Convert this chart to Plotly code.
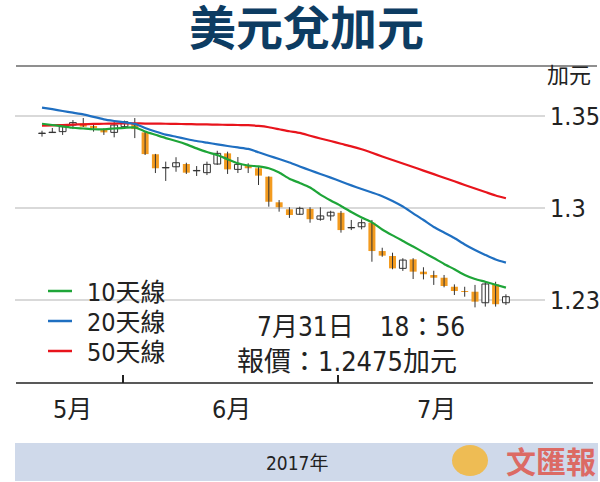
import plotly.graph_objects as go

# ---- data ----
open_ = [1.3405, 1.3410, 1.3415, 1.3451, 1.3460, 1.3446, 1.3424, 1.3411, 1.3442, 1.3457,
         1.3411, 1.3292, 1.3218, 1.3224, 1.3239, 1.3202, 1.3192, 1.3239, 1.3297, 1.3210,
         1.3234, 1.3216, 1.3170, 1.3031, 1.2993, 1.2966, 1.2995, 1.2939, 1.2957, 1.2974,
         1.2892, 1.2898, 1.2920, 1.2766, 1.2739, 1.2672, 1.2721, 1.2654, 1.2636, 1.2621,
         1.2572, 1.2546, 1.2545, 1.2485, 1.2585, 1.2485]
high = [1.3420, 1.3435, 1.3451, 1.3478, 1.3489, 1.3457, 1.3433, 1.3469, 1.3475, 1.3489,
        1.3413, 1.3294, 1.3252, 1.3276, 1.3246, 1.3228, 1.3252, 1.3311, 1.3306, 1.3277,
        1.3243, 1.3225, 1.3172, 1.3043, 1.3004, 1.3007, 1.3004, 1.3004, 1.2985, 1.2984,
        1.2935, 1.2939, 1.2935, 1.2784, 1.2757, 1.2727, 1.2727, 1.2678, 1.2659, 1.2636,
        1.2585, 1.2572, 1.2582, 1.2599, 1.2599, 1.2531]
low = [1.3388, 1.3408, 1.3397, 1.3429, 1.3440, 1.3415, 1.3397, 1.3384, 1.3439, 1.3380,
       1.3288, 1.3190, 1.3147, 1.3197, 1.3185, 1.3174, 1.3179, 1.3234, 1.3185, 1.3190,
       1.3190, 1.3125, 1.3007, 1.2980, 1.2946, 1.2964, 1.2920, 1.2931, 1.2931, 1.2866,
       1.2880, 1.2884, 1.2708, 1.2735, 1.2667, 1.2658, 1.2614, 1.2612, 1.2582, 1.2569,
       1.2527, 1.2518, 1.2460, 1.2464, 1.2464, 1.2473]
close = [1.3407, 1.3412, 1.3442, 1.3464, 1.3442, 1.3433, 1.3411, 1.3451, 1.3469, 1.3429,
         1.3293, 1.3216, 1.3220, 1.3246, 1.3192, 1.3204, 1.3237, 1.3297, 1.3210, 1.3237,
         1.3216, 1.3176, 1.3034, 1.3004, 1.2962, 1.2998, 1.2939, 1.2957, 1.2977, 1.2880,
         1.2894, 1.2920, 1.2766, 1.2741, 1.2672, 1.2717, 1.2654, 1.2640, 1.2621, 1.2576,
         1.2549, 1.2544, 1.2491, 1.2587, 1.2477, 1.2518]

ma10 = [1.3458, 1.3451, 1.3444, 1.3436, 1.3432, 1.3428, 1.3428, 1.3432, 1.3436, 1.3438,
        1.3416, 1.3398, 1.3380, 1.3364, 1.3346, 1.3324, 1.3304, 1.3288, 1.3265, 1.3243,
        1.3231, 1.3226, 1.3216, 1.3193, 1.3159, 1.3136, 1.3111, 1.3073, 1.3041, 1.3011,
        1.2978, 1.2948, 1.2922, 1.2883, 1.2851, 1.2821, 1.2791, 1.2759, 1.2728, 1.2696,
        1.2667, 1.2636, 1.2614, 1.2599, 1.2583, 1.2567]
ma20 = [1.3546, 1.3537, 1.3527, 1.3518, 1.3509, 1.3495, 1.3482, 1.3473, 1.3465, 1.3457,
        1.3435, 1.3416, 1.3399, 1.3387, 1.3375, 1.3364, 1.3355, 1.3346, 1.3337, 1.3329,
        1.3321, 1.3303, 1.3284, 1.3266, 1.3247, 1.3226, 1.3205, 1.3185, 1.3165, 1.3144,
        1.3123, 1.3103, 1.3084, 1.3064, 1.3038, 1.3008, 1.2971, 1.2935, 1.2897, 1.2867,
        1.2837, 1.2802, 1.2772, 1.2745, 1.2720, 1.2703]
ma50 = [1.3448, 1.3449, 1.3451, 1.3453, 1.3455, 1.3457, 1.3458, 1.3459, 1.3460, 1.3460,
        1.3459, 1.3459, 1.3458, 1.3457, 1.3456, 1.3455, 1.3454, 1.3453, 1.3452, 1.3451,
        1.3450, 1.3446, 1.3439, 1.3428, 1.3417, 1.3408, 1.3393, 1.3378, 1.3364, 1.3349,
        1.3335, 1.3319, 1.3300, 1.3280, 1.3261, 1.3242, 1.3223, 1.3203, 1.3184, 1.3164,
        1.3145, 1.3125, 1.3106, 1.3087, 1.3068, 1.3053]

legend_labels = ["10天線", "20天線", "50天線"]
y_tickvals = [1.35, 1.30, 1.25]
y_ticktext = ["1.35", "1.3", "1.23"]
month_labels = ["5月", "6月", "7月"]
title_text = "美元兌加元"
unit_text = "加元"
info_line1 = "7月31日　18：56"
info_line2 = "報價：1.2475加元"
year_text = "2017年"
logo_text = "文匯報"

# ---- styling ----
ORANGE = "#f39b1f"
GREEN = "#1ea538"
BLUE = "#1f6fc1"
RED = "#e8141c"
CJK = "Noto Sans CJK TC, Noto Sans CJK SC, sans-serif"
TITLE_FONT = "DejaVu Sans, Noto Sans CJK TC, sans-serif"
NUM = "Liberation Sans Narrow, DejaVu Sans Condensed, Noto Sans CJK TC, sans-serif"

W, H = 600, 482
L, R, T, B = 15, 545, 70, 383


def px(xp):
    return (xp - L) / (R - L)


def py(yp):
    return (B - yp) / (B - T)


idx = list(range(len(open_)))
up = [i for i in idx if close[i] >= open_[i]]
dn = [i for i in idx if close[i] < open_[i]]

fig = go.Figure()

# wicks
wx, wy = [], []
for i in idx:
    wx += [i, i, None]
    wy += [low[i], high[i], None]
fig.add_trace(go.Scatter(x=wx, y=wy, mode="lines", line=dict(color="#333333", width=1),
                         hoverinfo="skip", showlegend=False))
# rising bodies (hollow)
fig.add_trace(go.Bar(x=up, base=[open_[i] for i in up], y=[close[i] - open_[i] for i in up],
                     width=0.66, marker=dict(color="white", line=dict(color="#333333", width=1)),
                     showlegend=False, hoverinfo="skip"))
# falling bodies (orange)
fig.add_trace(go.Bar(x=dn, base=[close[i] for i in dn], y=[open_[i] - close[i] for i in dn],
                     width=0.68, marker=dict(color=ORANGE, line=dict(width=0)),
                     showlegend=False, hoverinfo="skip"))

for series, color, name in [(ma50, RED, legend_labels[2]), (ma20, BLUE, legend_labels[1]),
                            (ma10, GREEN, legend_labels[0])]:
    fig.add_trace(go.Scatter(x=idx, y=series, mode="lines", name=name,
                             line=dict(color=color, width=2.2, shape="spline", smoothing=0.6),
                             showlegend=False, hoverinfo="skip"))

shapes = []
annotations = []

# title and rule
annotations.append(dict(text="<b>%s</b>" % title_text, x=px(306), y=py(29), xref="paper", yref="paper",
                        showarrow=False, xanchor="center", yanchor="middle",
                        font=dict(family=TITLE_FONT, size=47, color="#0d3c62")))
shapes.append(dict(type="line", xref="paper", yref="paper", x0=px(16), x1=px(597), y0=py(66), y1=py(66),
                   line=dict(color="#8f8f8f", width=2)))
annotations.append(dict(text=unit_text, x=px(569), y=py(73), xref="paper", yref="paper", showarrow=False,
                        xanchor="center", yanchor="middle", font=dict(family=CJK, size=22, color="#222")))

# bottom axis line
shapes.append(dict(type="line", xref="paper", yref="paper", x0=px(16), x1=px(593), y0=py(383), y1=py(383),
                   line=dict(color="#222", width=1.5)))

# month labels
for lab, pos in zip(month_labels, [3.0, 18.4, 38.3]):
    annotations.append(dict(text=lab, x=pos, y=py(410), xref="x", yref="paper", showarrow=False,
                            xanchor="center", yanchor="middle", font=dict(family=NUM, size=25, color="#222")))

# legend
for k, (lab, color) in enumerate(zip(legend_labels, [GREEN, BLUE, RED])):
    yy = 291 + 30 * k
    shapes.append(dict(type="line", xref="paper", yref="paper", x0=px(48), x1=px(72), y0=py(yy), y1=py(yy),
                       line=dict(color=color, width=2.5)))
    annotations.append(dict(text=lab, x=px(85), y=py(yy + 1), xref="paper", yref="paper", showarrow=False,
                            xanchor="left", yanchor="middle", font=dict(family=NUM, size=25, color="#222")))

# info text
annotations.append(dict(text=info_line1, x=px(361), y=py(327), xref="paper", yref="paper", showarrow=False,
                        xanchor="center", yanchor="middle", font=dict(family=NUM, size=26, color="#222")))
annotations.append(dict(text=info_line2, x=px(347), y=py(361), xref="paper", yref="paper", showarrow=False,
                        xanchor="center", yanchor="middle", font=dict(family=NUM, size=27, color="#222")))

# footer band
shapes.append(dict(type="rect", xref="paper", yref="paper", x0=px(15), x1=px(598), y0=py(481), y1=py(443),
                   fillcolor="#cfd9ea", line=dict(width=0), layer="below"))
annotations.append(dict(text=year_text, x=px(297), y=py(463), xref="paper", yref="paper", showarrow=False,
                        xanchor="center", yanchor="middle", font=dict(family=NUM, size=19, color="#222")))
shapes.append(dict(type="circle", xref="paper", yref="paper", x0=px(452), x1=px(488), y0=py(476), y1=py(445),
                   fillcolor="#f3b63a", line=dict(width=0), opacity=0.85))
annotations.append(dict(text="<b>%s</b>" % logo_text, x=px(551), y=py(460), xref="paper", yref="paper",
                        showarrow=False, xanchor="center", yanchor="middle",
                        font=dict(family=CJK, size=30, color="#dc6a64")))

fig.update_layout(
    width=W, height=H,
    margin=dict(l=L, r=W - R, t=T, b=H - B, pad=0, autoexpand=False),
    paper_bgcolor="white", plot_bgcolor="white",
    barmode="overlay",
    shapes=shapes, annotations=annotations,
    showlegend=False,
    xaxis=dict(range=[-2.62, 48.79], showgrid=False, zeroline=False, showticklabels=False,
               ticks="inside", tickvals=[7.86, 28.7], ticklen=8, tickwidth=1.5, tickcolor="#222",
               showline=False, fixedrange=True, automargin=False),
    yaxis=dict(range=[1.20489, 1.3750], side="right", tickvals=y_tickvals, ticktext=y_ticktext,
               showgrid=True, gridcolor="#d9d9d9", gridwidth=1.5, zeroline=False, ticks="",
               showline=False, tickfont=dict(family=NUM, size=25, color="#222"),
               ticklabelstandoff=4, fixedrange=True, automargin=False),
)

fig.write_html("out.html", config={"displayModeBar": False},
               post_script="document.body.style.margin='0';")
